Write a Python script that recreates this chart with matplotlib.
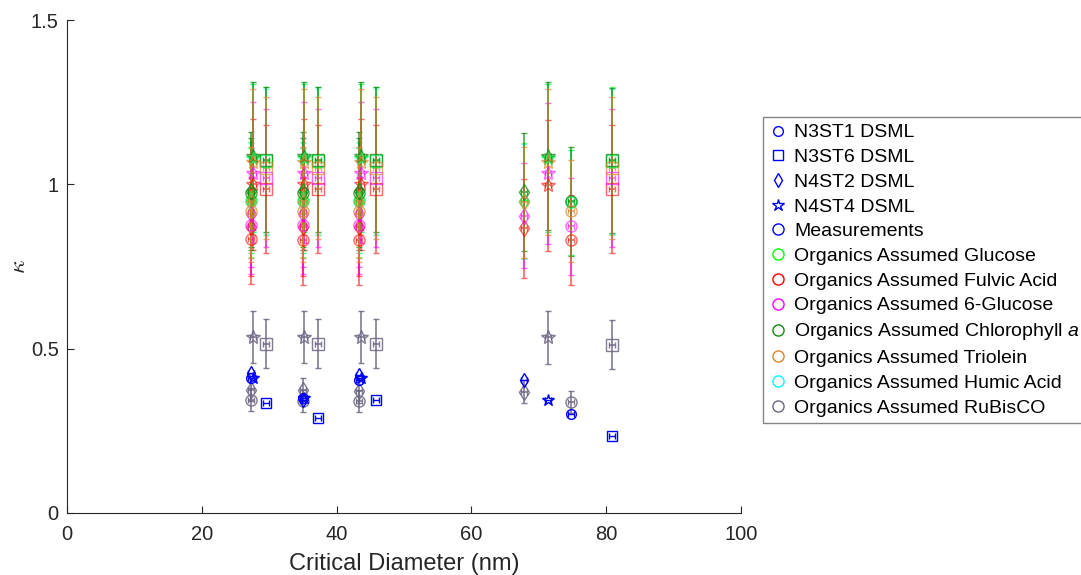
import matplotlib.pyplot as plt
from matplotlib.lines import Line2D

plt.rcParams['font.family'] = ['Liberation Sans', 'DejaVu Sans']
plt.rcParams['mathtext.fontset'] = 'custom'
plt.rcParams['mathtext.rm'] = 'Liberation Sans'
plt.rcParams['mathtext.it'] = 'Liberation Sans:italic'

# stations and their markers
stations = ['N3ST1 DSML', 'N3ST6 DSML', 'N4ST2 DSML', 'N4ST4 DSML']
station_markers = ['o', 's', 'd', '*']

# critical diameters (nm), one row per station
diam = [
    [27.3, 35.0, 43.3, 74.8],
    [29.5, 37.2, 45.8, 80.8],
    [27.3, 35.0, 43.3, 67.8],
    [27.6, 35.1, 43.6, 71.4],
]
diam_err = [0.45, 0.45, 0.45, 0.45]

# measured kappa
kappa_meas = [
    [0.41, 0.35, 0.405, 0.30],
    [0.335, 0.29, 0.345, 0.235],
    [0.425, 0.345, 0.42, 0.405],
    [0.41, 0.35, 0.41, 0.345],
]

# kappa predicted for each organic assumption
kappa_glucose = [
    [0.95, 0.95, 0.95, 0.945],
    [1.07, 1.07, 1.07, 1.07],
    [0.955, 0.955, 0.955, 0.95],
    [1.08, 1.08, 1.08, 1.08],
]
kappa_fulvic = [
    [0.835, 0.83, 0.83, 0.83],
    [0.985, 0.985, 0.985, 0.985],
    [0.87, 0.87, 0.87, 0.866],
    [1.0, 1.0, 1.0, 0.997],
]
kappa_6glucose = [
    [0.875, 0.875, 0.875, 0.872],
    [1.02, 1.02, 1.02, 1.02],
    [0.91, 0.91, 0.91, 0.905],
    [1.035, 1.035, 1.035, 1.033],
]
kappa_chloro = [
    [0.975, 0.975, 0.975, 0.948],
    [1.075, 1.075, 1.075, 1.073],
    [0.98, 0.98, 0.98, 0.977],
    [1.085, 1.085, 1.085, 1.085],
]
kappa_triolein = [
    [0.92, 0.92, 0.92, 0.918],
    [1.05, 1.05, 1.05, 1.05],
    [0.945, 0.945, 0.945, 0.945],
    [1.067, 1.067, 1.067, 1.067],
]
kappa_humic = [
    [0.95, 0.95, 0.95, 0.945],
    [1.07, 1.07, 1.07, 1.07],
    [0.95, 0.95, 0.95, 0.948],
    [1.08, 1.08, 1.08, 1.08],
]
kappa_rubisco = [
    [0.345, 0.34, 0.34, 0.338],
    [0.515, 0.515, 0.515, 0.512],
    [0.375, 0.375, 0.37, 0.369],
    [0.535, 0.535, 0.535, 0.534],
]

# kappa uncertainty for each organic assumption, one value per station
err_glucose = [0.16, 0.225, 0.175, 0.225]
err_fulvic = [0.137, 0.195, 0.15, 0.2]
err_6glucose = [0.148, 0.21, 0.16, 0.215]
err_chloro = [0.165, 0.22, 0.18, 0.225]
err_triolein = [0.155, 0.215, 0.17, 0.222]
err_humic = [0.16, 0.22, 0.175, 0.225]
err_rubisco = [0.034, 0.075, 0.035, 0.08]

organics = ['Glucose', 'Fulvic Acid', '6-Glucose', 'Chlorophyll $\\mathit{a}$',
            'Triolein', 'Humic Acid', 'RuBisCO']
org_colors = ['#00ff00', '#ff0000', '#ff00ff', '#108a10',
              '#d9862b', '#00ffff', '#6b6482']
org_alpha = [0.5, 0.6, 0.6, 0.75, 0.7, 0.5, 0.85]
org_kappa = [kappa_glucose, kappa_fulvic, kappa_6glucose, kappa_chloro,
             kappa_triolein, kappa_humic, kappa_rubisco]
org_err = [err_glucose, err_fulvic, err_6glucose, err_chloro,
           err_triolein, err_humic, err_rubisco]
# humic sits underneath everything, triolein on top of the greens
draw_order = [5, 0, 1, 2, 3, 4, 6]

fig = plt.figure(figsize=(10.81, 5.75), dpi=100)
ax = fig.add_axes([67 / 1081, 62 / 575, 674 / 1081, 493 / 575])

# measurements
for s in range(len(stations)):
    ax.errorbar(diam[s], kappa_meas[s], xerr=diam_err[s], fmt=station_markers[s],
                color='blue', mfc='none', ms=7 if station_markers[s] != '*' else 9,
                mew=1.0, elinewidth=1.0, capsize=2.5, zorder=3)

# organic assumptions
for k in draw_order:
    for s in range(len(stations)):
        ax.errorbar(diam[s], org_kappa[k][s], xerr=diam_err[s], yerr=org_err[k][s],
                    fmt=station_markers[s], color=org_colors[k], mfc='none',
                    ms=8 if station_markers[s] != '*' else 10, mew=1.0,
                    elinewidth=1.2, capsize=2.5, alpha=org_alpha[k], zorder=2)

ax.set_xlim(0, 100)
ax.set_ylim(0, 1.5)
ax.set_xticks([0, 20, 40, 60, 80, 100])
ax.set_yticks([0, 0.5, 1, 1.5])
ax.set_yticklabels(['0', '0.5', '1', '1.5'])
ax.tick_params(direction='in', length=5, width=0.8, colors='0.15', labelsize=14.5)
ax.tick_params(axis='x', pad=9)
ax.tick_params(axis='y', pad=6)
for side in ['top', 'right']:
    ax.spines[side].set_visible(False)
for side in ['left', 'bottom']:
    ax.spines[side].set_color('0.15')
    ax.spines[side].set_linewidth(0.8)

ax.set_xlabel('Critical Diameter (nm)', fontsize=17, color='0.15', labelpad=6)
ax.set_ylabel('$\\kappa$', fontsize=17, color='0.15', math_fontfamily='cm')
ax.yaxis.set_label_coords(-0.055, 0.5)

handles = []
labels = []
for s in range(len(stations)):
    handles.append(Line2D([], [], ls='none', marker=station_markers[s], mec='blue',
                          mfc='none', ms=7 if station_markers[s] != '*' else 9, mew=1.0))
    labels.append(stations[s])
handles.append(Line2D([], [], ls='none', marker='o', mec='blue', mfc='none', ms=8, mew=1.0))
labels.append('Measurements')
for k in range(len(organics)):
    handles.append(Line2D([], [], ls='none', marker='o', mec=org_colors[k], mfc='none',
                          ms=8, mew=1.0))
    labels.append('Organics Assumed ' + organics[k])

fig.legend(handles, labels, loc='upper left', bbox_to_anchor=(763 / 1081, 1 - 117 / 575),
           bbox_transform=fig.transFigure, frameon=True, fancybox=False,
           edgecolor='0.4', fontsize=14, labelspacing=0.365, handlelength=0.8,
           handletextpad=0.45, borderpad=0.35, borderaxespad=0)

fig.savefig('out.png', dpi=100)
